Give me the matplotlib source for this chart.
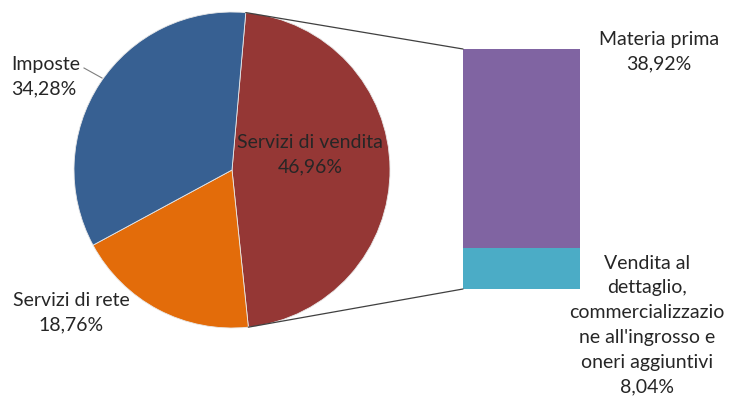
import matplotlib
matplotlib.use("Agg")
import matplotlib.pyplot as plt
from matplotlib.patches import ConnectionPatch
import numpy as np

plt.rcParams['font.family'] = ['Lato', 'DejaVu Sans']

# Data
pie_labels = ["Servizi di vendita", "Servizi di rete", "Imposte"]
pie_values = [46.96, 18.76, 34.28]
pie_colors = ["#953735", "#E36C0A", "#376092"]

bar_labels = ["Vendita al\ndettaglio,\ncommercializzazio\nne all'ingrosso e\noneri aggiuntivi", "Materia prima"]
bar_values = [8.04, 38.92]
bar_colors = ["#4BACC6", "#8064A2"]

W, H = 736, 397
fig = plt.figure(figsize=(W / 100, H / 100), dpi=100)
ax = fig.add_axes([0, 0, 1, 1])

cx, cy, R = 232, H - 170, 158
start = 85
wedges, _ = ax.pie(pie_values, colors=pie_colors, startangle=start, counterclock=False,
                   radius=R, center=(cx, cy), frame=True,
                   wedgeprops=dict(edgecolor='#e8e8e8', linewidth=0.6))
ax.set_xlim(0, W)
ax.set_ylim(0, H)
ax.set_aspect('equal')
ax.axis('off')

fs = 14
ls = 1.55
tc = '#262626'
fmt = lambda v: f"{v:.2f}%".replace('.', ',')
# pie labels
ax.text(310, H - 155, f"{pie_labels[0]}\n{fmt(pie_values[0])}", ha='center', va='center',
        fontsize=fs, color=tc, linespacing=ls, multialignment='center')
ax.text(71, H - 313, f"{pie_labels[1]}\n{fmt(pie_values[1])}", ha='center', va='center',
        fontsize=fs, color=tc, linespacing=ls, multialignment='center')
ax.text(11, H - 77, f"{pie_labels[2]}\n{fmt(pie_values[2])}", ha='left', va='center',
        fontsize=fs, color=tc, linespacing=ls)
ax.plot([84, 102], [H - 68, H - 78], color='#7f7f7f', lw=0.8)

# bar axes
bx0, bx1, by0, by1 = 463, 580, 49, 289
bax = fig.add_axes([bx0 / W, 1 - by1 / H, (bx1 - bx0) / W, (by1 - by0) / H])
total = sum(bar_values)
bottom = 0
for v, c in zip(bar_values, bar_colors):
    bax.bar(0, v, bottom=bottom, width=1, color=c, edgecolor='none')
    bottom += v
bax.set_xlim(-0.5, 0.5)
bax.set_ylim(0, total)
bax.axis('off')

ax.text(659, H - 52, f"{bar_labels[1]}\n{fmt(bar_values[1])}", ha='center', va='center',
        fontsize=fs, color=tc, linespacing=ls, multialignment='center')
ax.text(647, H - 325, f"{bar_labels[0]}\n{fmt(bar_values[0])}", ha='center', va='center',
        fontsize=fs, color=tc, linespacing=ls, multialignment='center')

# connection lines
a_top = np.deg2rad(start)
a_bot = np.deg2rad(start - 360 * pie_values[0] / sum(pie_values))
for ang, yb in [(a_top, total), (a_bot, 0)]:
    p = (cx + R * np.cos(ang), cy + R * np.sin(ang))
    con = ConnectionPatch(xyA=p, coordsA=ax.transData, xyB=(-0.5, yb), coordsB=bax.transData,
                          color='#404040', lw=0.9)
    fig.add_artist(con)

fig.savefig("out.png", dpi=100)
